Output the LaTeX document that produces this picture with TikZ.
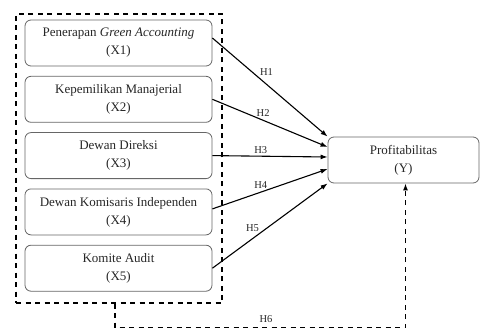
\documentclass[tikz,border=0pt]{standalone}
\usepackage{fontspec}
\setmainfont{Liberation Serif}
\usepackage{tikz}
\usetikzlibrary{arrows.meta}
\usetikzlibrary{positioning}

\begin{document}
\begin{tikzpicture}[x=1pt,y=-1pt]
\tikzstyle{varbox}=[draw=black!60,line width=0.8pt,rounded corners=6pt,minimum width=187pt,minimum height=46pt,inner sep=0pt,align=center,text=black!85,font=\fontsize{13}{18}\selectfont]
\tikzstyle{hyp}=[inner sep=1pt,text=black!85,font=\fontsize{10.5}{12}\selectfont]
\tikzstyle{link}=[line width=1.1pt,-{Latex[length=7pt,width=5pt]}]
\tikzstyle{dashline}=[line width=1.2pt,dash pattern=on 5pt off 4.5pt]
\useasboundingbox (0,0) rectangle (480,329);
% independent variables
\node[varbox] (x1) at (118.5,43) {Penerapan \textit{Green Accounting}\\(X1)};
\node[varbox,below=9.5pt of x1] (x2) {Kepemilikan Manajerial\\(X2)};
\node[varbox,below=9.5pt of x2] (x3) {Dewan Direksi\\(X3)};
\node[varbox,below=9.5pt of x3] (x4) {Dewan Komisaris Independen\\(X4)};
\node[varbox,below=9.5pt of x4] (x5) {Komite Audit\\(X5)};
\node[dashline,draw,minimum width=206pt,minimum height=289pt] (grp) at (119,158.5) {};
% dependent variable
\node[varbox,minimum width=151pt] (y) at (403.5,160) {Profitabilitas\\(Y)};
% hypotheses
\draw[link] ([yshift=5pt]x1.east) -- node[hyp,pos=0.4,above right] {H1} (y.north west);
\draw[link] (x2.east) -- node[hyp,pos=0.44,above=2pt] {H2} ([yshift=13pt]y.west);
\draw[link] (x3.east) -- node[hyp,pos=0.42,above=1pt] {H3} ([yshift=3pt]y.west);
\draw[link] ([yshift=3pt]x4.east) -- node[hyp,pos=0.42,above=2pt] {H4} ([yshift=-9pt]y.west);
\draw[link] (x5.east) -- node[hyp,pos=0.4,above left=1pt and -2pt] {H5} (y.south west);
\draw[dashline,-{Latex[length=7pt,width=5pt]}] ([xshift=-4pt]grp.south) -- ++(0,24) -| node[hyp,pos=0.26,above=3pt] {H6} ([xshift=2pt]y.south);
\end{tikzpicture}
\end{document}
